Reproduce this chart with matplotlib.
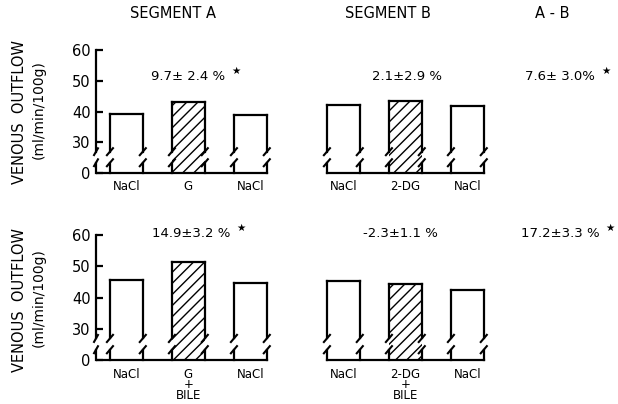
import matplotlib.pyplot as plt
import numpy as np

# bar heights (ml/min/100g)
top_a = [39.1, 43.0, 38.9]
top_b = [42.1, 43.4, 41.8]
bot_a = [45.6, 51.4, 44.6]
bot_b = [45.2, 44.3, 42.4]

top_labels = ['NaCl', 'G', 'NaCl', 'NaCl', '2-DG', 'NaCl']
bot_labels = ['NaCl', 'G\n+\nBILE', 'NaCl', 'NaCl', '2-DG\n+\nBILE', 'NaCl']

top_notes = ['9.7\u00b1 2.4 %', '2.1\u00b12.9 %', '7.6\u00b1 3.0%']
bot_notes = ['14.9\u00b13.2 %', '-2.3\u00b11.1 %', '17.2\u00b13.3 %']
top_stars = [True, False, True]
bot_stars = [True, False, True]

yticks = [20, 30, 40, 50, 60]
ytick_labels = ['0', '30', '40', '50', '60']

xpos = np.array([0, 1, 2, 3.5, 4.5, 5.5])
w = 0.53
base = 20          # where the broken axis puts "0"
brk_lo, brk_hi = 23.3, 26.9

fig = plt.figure(figsize=(6.18, 4.04), dpi=100)
plt.rcParams['hatch.linewidth'] = 1.0


def slash(ax, x, y, dx=0.06, dy=1.4):
    ax.plot([x - dx, x + dx], [y - dy, y + dy], color='black', lw=1.5,
            solid_capstyle='butt', clip_on=False)


def draw_panel(ax, vals, labels, notes, stars, note_x, note_y):
    ax.set_xlim(-0.49, 7.93)
    ax.set_ylim(18, 62)
    for s in ax.spines.values():
        s.set_visible(False)

    for i, (x, v) in enumerate(zip(xpos, vals)):
        hatched = i in (1, 4)
        ax.bar(x, v - base, bottom=base, width=w, color='white',
               hatch='///' if hatched else None, edgecolor='black', lw=0)
        for side in (x - w / 2, x + w / 2):
            ax.plot([side, side], [base, brk_lo], color='black', lw=1.6)
            ax.plot([side, side], [brk_hi, v], color='black', lw=1.6)
            slash(ax, side, brk_lo)
            slash(ax, side, brk_hi)
        ax.plot([x - w / 2, x + w / 2], [v, v], color='black', lw=1.6)

    # baselines
    ax.plot([-0.49, xpos[2] + w / 2], [base, base], color='black', lw=1.6)
    ax.plot([xpos[3] - w / 2, xpos[5] + w / 2], [base, base], color='black', lw=1.6)

    # broken y axis
    ax.plot([-0.49, -0.49], [brk_hi, 60], color='black', lw=1.6, clip_on=False)
    ax.plot([-0.49, -0.49], [base, brk_lo], color='black', lw=1.6, clip_on=False)
    slash(ax, -0.49, brk_lo, dx=0.04)
    slash(ax, -0.49, brk_hi, dx=0.04)

    ax.set_yticks(yticks)
    ax.set_yticklabels(ytick_labels, fontsize=10.5)
    ax.tick_params(axis='y', direction='in', length=5, width=1.6, pad=4)

    ax.set_xticks(xpos)
    ax.set_xticklabels(labels, fontsize=8.5, linespacing=0.78, va='top')
    ax.tick_params(axis='x', length=0, pad=1)

    for nx, txt, st in zip(note_x, notes, stars):
        t = ax.text(nx, note_y, txt, ha='center', va='center', fontsize=9.5)
        if st:
            ax.annotate('\u2605', xy=(1, 1), xycoords=t, xytext=(4, 3),
                        textcoords='offset points', fontsize=7.5,
                        ha='left', va='top')


ax1 = fig.add_axes([96 / 618, 0.557, 522 / 618, 0.334])
ax2 = fig.add_axes([96 / 618, 0.0934, 522 / 618, 0.3404])

draw_panel(ax1, top_a + top_b, top_labels, top_notes, top_stars,
           [1, 4.53, 7.0], 51.5)
draw_panel(ax2, bot_a + bot_b, bot_labels, bot_notes, bot_stars,
           [1.05, 4.42, 7.0], 60.5)

for ly in (112, 300):
    fig.text(20 / 618, 1 - ly / 404, 'VENOUS  OUTFLOW', rotation=90,
             ha='center', va='center', fontsize=10.5)
    fig.text(39 / 618, 1 - (ly - 2) / 404, '(ml/min/100g)', rotation=90,
             ha='center', va='center', fontsize=10)

for tx, txt in ((173, 'SEGMENT A'), (388, 'SEGMENT B'), (552, 'A - B')):
    fig.text(tx / 618, 1 - 14 / 404, txt, ha='center', va='center', fontsize=10.5)

fig.savefig('out.png', dpi=100)
